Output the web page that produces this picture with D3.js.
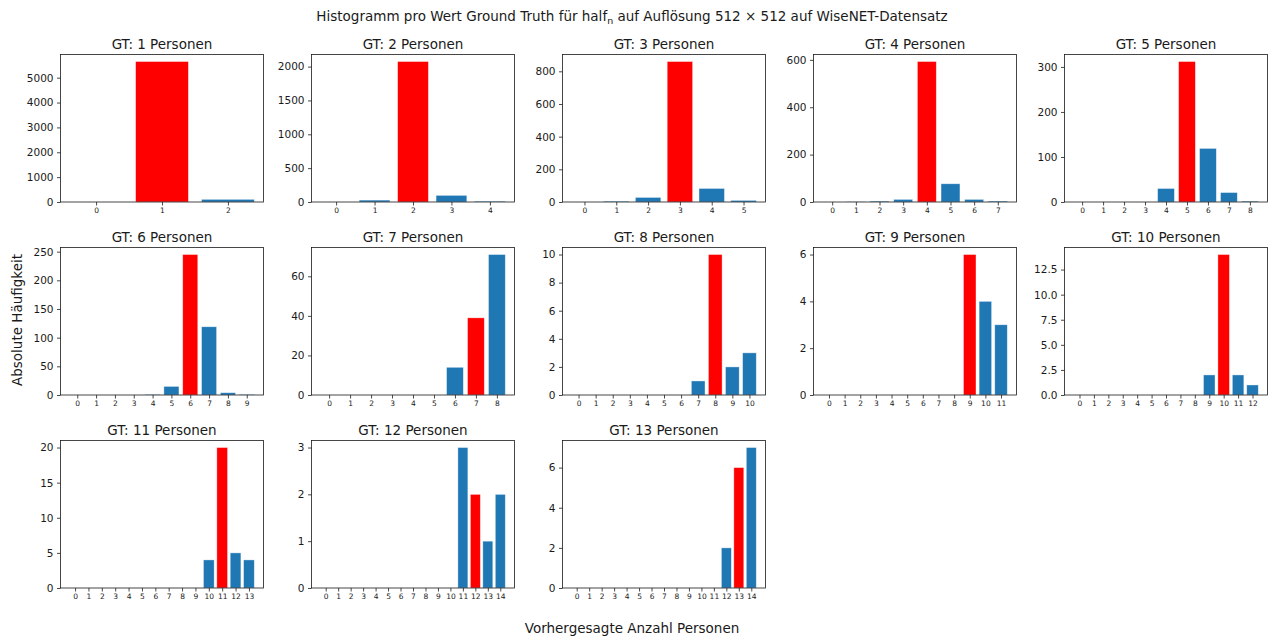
<!DOCTYPE html>
<html>
<head>
<meta charset="utf-8">
<script src="https://cdn.jsdelivr.net/npm/d3@7"></script>
<style>
  body { margin: 0; background: #fff; }
  svg { display: block; font-family: "DejaVu Sans", sans-serif; }
</style>
</head>
<body>
<svg id="chart" width="1272" height="636"></svg>
<script>
// Ground-truth person counts, one histogram panel each
const gtValues = [1, 2, 3, 4, 5, 6, 7, 8, 9, 10, 11, 12, 13];

// Frequency of each predicted count (index = predicted number of persons)
const countsGT1  = [0, 5650, 107];
const countsGT2  = [0, 28, 2075, 98, 12];
const countsGT3  = [0, 5, 28, 860, 83, 10];
const countsGT4  = [0, 1, 4, 11, 593, 77, 11, 4];
const countsGT5  = [0, 0, 0, 0, 30, 312, 119, 21, 2];
const countsGT6  = [0, 0, 0, 0, 1, 15, 245, 119, 4, 1];
const countsGT7  = [0, 0, 0, 0, 0, 0, 14, 39, 71];
const countsGT8  = [0, 0, 0, 0, 0, 0, 0, 1, 10, 2, 3];
const countsGT9  = [0, 0, 0, 0, 0, 0, 0, 0, 0, 6, 4, 3];
const countsGT10 = [0, 0, 0, 0, 0, 0, 0, 0, 0, 2, 14, 2, 1];
const countsGT11 = [0, 0, 0, 0, 0, 0, 0, 0, 0, 0, 4, 20, 5, 4];
const countsGT12 = [0, 0, 0, 0, 0, 0, 0, 0, 0, 0, 0, 3, 2, 1, 2];
const countsGT13 = [0, 0, 0, 0, 0, 0, 0, 0, 0, 0, 0, 0, 2, 6, 7];

// Y tick values per panel
const ticksGT1  = [0, 1000, 2000, 3000, 4000, 5000];
const ticksGT2  = [0, 500, 1000, 1500, 2000];
const ticksGT3  = [0, 200, 400, 600, 800];
const ticksGT4  = [0, 200, 400, 600];
const ticksGT5  = [0, 100, 200, 300];
const ticksGT6  = [0, 50, 100, 150, 200, 250];
const ticksGT7  = [0, 20, 40, 60];
const ticksGT8  = [0, 2, 4, 6, 8, 10];
const ticksGT9  = [0, 2, 4, 6];
const ticksGT10 = [0, 2.5, 5, 7.5, 10, 12.5];
const ticksGT11 = [0, 5, 10, 15, 20];
const ticksGT12 = [0, 1, 2, 3];
const ticksGT13 = [0, 2, 4, 6];

const allCounts = [countsGT1, countsGT2, countsGT3, countsGT4, countsGT5, countsGT6, countsGT7,
                   countsGT8, countsGT9, countsGT10, countsGT11, countsGT12, countsGT13];
const allTicks = [ticksGT1, ticksGT2, ticksGT3, ticksGT4, ticksGT5, ticksGT6, ticksGT7,
                  ticksGT8, ticksGT9, ticksGT10, ticksGT11, ticksGT12, ticksGT13];

const titleText = "Histogramm pro Wert Ground Truth für half";
const xLabel = "Vorhergesagte Anzahl Personen";
const yLabel = "Absolute Häufigkeit";

const svg = d3.select("#chart");
const ink = "#1a1a1a";
const blue = "#1f77b4";
const red = "#ff0000";

// Grid geometry
const colLeft = [60.5, 311.5, 562.5, 813.5, 1064.5];
const rowTop = [54.5, 247.5, 440.5];
const pw = 203, ph = 147.5;

// Figure title with subscript n
const title = svg.append("text")
  .attr("x", 632).attr("y", 21)
  .attr("text-anchor", "middle")
  .attr("font-size", 13.5).attr("fill", ink);
title.append("tspan").text(titleText);
title.append("tspan").attr("font-size", 9.5).attr("dy", 3).text("n");
title.append("tspan").attr("dy", -3).text(" auf Auflösung 512 × 512 auf WiseNET-Datensatz");

svg.append("text")
  .attr("x", 632).attr("y", 633)
  .attr("text-anchor", "middle")
  .attr("font-size", 13.5).attr("fill", ink)
  .text(xLabel);

svg.append("text")
  .attr("transform", "translate(22,320) rotate(-90)")
  .attr("text-anchor", "middle")
  .attr("font-size", 13.5).attr("fill", ink)
  .text(yLabel);

gtValues.forEach((gt, i) => {
  const counts = allCounts[i];
  const yTicks = allTicks[i];
  const col = i % 5, row = Math.floor(i / 5);
  const x0 = colLeft[col], y0 = rowTop[row];
  const n = counts.length;

  // matplotlib-style limits: bars of width 0.8 with 5% margins
  const span = (n - 1) + 0.8;
  const x = d3.scaleLinear()
    .domain([-0.4 - 0.05 * span, n - 1 + 0.4 + 0.05 * span])
    .range([0, pw]);
  const y = d3.scaleLinear()
    .domain([0, d3.max(counts) * 1.05])
    .range([ph, 0]);

  const g = svg.append("g").attr("transform", `translate(${x0},${y0})`);

  g.selectAll("rect.bar")
    .data(counts.map((v, k) => ({ k, v })))
    .join("rect")
    .attr("class", "bar")
    .attr("x", d => x(d.k - 0.4))
    .attr("width", d => x(d.k + 0.4) - x(d.k - 0.4))
    .attr("y", d => y(d.v))
    .attr("height", d => ph - y(d.v))
    .attr("fill", d => d.k === gt ? red : blue)
    .attr("stroke", d => d.v > 0 ? "rgba(255,255,255,0.55)" : "none")
    .attr("stroke-width", 0.7);

  // X axis
  const xAxis = d3.axisBottom(x)
    .tickValues(d3.range(n))
    .tickFormat(d3.format("d"))
    .tickSize(3.5).tickPadding(2.5);
  const gx = g.append("g").attr("transform", `translate(0,${ph})`).call(xAxis);
  gx.select(".domain").remove();
  gx.selectAll("line").attr("stroke", ink).attr("stroke-width", 0.8);
  gx.selectAll("text").attr("font-size", 7.5).attr("fill", ink)
    .attr("font-family", "DejaVu Sans");

  // Y axis
  const fmt = yTicks.some(t => !Number.isInteger(t)) ? d3.format(".1f") : d3.format("d");
  const yAxis = d3.axisLeft(y)
    .tickValues(yTicks)
    .tickFormat(fmt)
    .tickSize(3.5).tickPadding(3.5);
  const gy = g.append("g").call(yAxis);
  gy.select(".domain").remove();
  gy.selectAll("line").attr("stroke", ink).attr("stroke-width", 0.8);
  gy.selectAll("text").attr("font-size", 10.5).attr("fill", ink)
    .attr("font-family", "DejaVu Sans");

  // Frame
  g.append("rect")
    .attr("width", pw).attr("height", ph)
    .attr("fill", "none").attr("stroke", ink).attr("stroke-width", 0.8);

  // Panel title
  g.append("text")
    .attr("x", pw / 2).attr("y", -6)
    .attr("text-anchor", "middle")
    .attr("font-size", 13.5).attr("fill", ink)
    .text(`GT: ${gt} Personen`);
});
</script>
</body>
</html>
